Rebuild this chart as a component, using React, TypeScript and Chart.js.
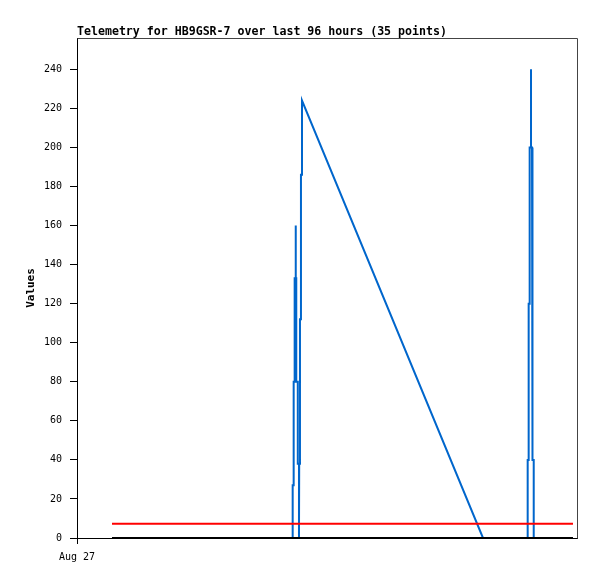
import React, { useEffect, useRef } from "react";
import { Chart, registerables } from "chart.js";

Chart.register(...registerables);

const TITLE = "Telemetry for HB9GSR-7 over last 96 hours (35 points)";
const Y_AXIS_TITLE = "Values";
const FONT = "'DejaVu Sans Mono', 'Liberation Mono', monospace";

// x axis in hours since Aug 27 00:00 (96-hour window)
const xMin = 0;
const xMax = 96;
const xTickValues = [0];
const xTickLabels = ["Aug 27"];

const yMin = 0;
const yMax = 256;
const yTickValues = [0, 20, 40, 60, 80, 100, 120, 140, 160, 180, 200, 220, 240];

// main telemetry series (hours, value)
const blueHours = [
  6.72, 20.0, 33.0,
  41.41, 41.41, 41.6, 41.6, 41.79, 41.79, 42.0, 41.98, 42.02, 42.1, 42.1, 42.39, 42.39,
  42.62, 42.62, 42.66, 42.81, 42.81, 43.0, 43.0, 43.2, 43.2,
  77.95, 82.18,
  86.53, 86.53, 86.72, 86.72, 86.91, 86.91, 87.17, 87.17, 87.17, 87.36, 87.36, 87.5, 87.5, 87.69, 87.69,
  90.82, 95.23,
];
const blueValues = [
  0, 0, 0,
  0, 27, 27, 80, 80, 133, 133, 160, 133, 133, 80, 80, 38,
  38, 0, 38, 38, 112, 112, 186, 186, 224,
  0, 0,
  0, 40, 40, 120, 120, 200, 200, 240, 200, 200, 120, 120, 40, 40, 0,
  0, 0,
];

// reference lines
const redHours = [6.72, 95.23];
const redValues = [7.3, 7.3];
const blackHours = [6.72, 95.23];
const blackValues = [0, 0];

const toPoints = (xs: number[], ys: number[]) => xs.map((x, i) => ({ x, y: ys[i] }));

const titlePlugin = {
  id: "customTitle",
  afterDraw(chart: any) {
    const ctx = chart.ctx;
    ctx.save();
    ctx.font = `bold 11.6px ${FONT}`;
    ctx.fillStyle = "#000";
    ctx.textAlign = "left";
    ctx.textBaseline = "alphabetic";
    ctx.fillText(TITLE, chart.chartArea.left, 35);
    ctx.restore();
  },
};

const framePlugin = {
  id: "frame",
  beforeDatasetsDraw(chart: any) {
    const { ctx, chartArea } = chart;
    ctx.save();
    ctx.strokeStyle = "#444";
    ctx.lineWidth = 1;
    ctx.beginPath();
    ctx.moveTo(Math.round(chartArea.left) + 0.5, Math.round(chartArea.top) + 0.5);
    ctx.lineTo(Math.round(chartArea.right) + 0.5, Math.round(chartArea.top) + 0.5);
    ctx.lineTo(Math.round(chartArea.right) + 0.5, Math.round(chartArea.bottom) + 0.5);
    ctx.stroke();
    ctx.restore();
  },
};

export default function App() {
  const ref = useRef<HTMLCanvasElement | null>(null);

  useEffect(() => {
    document.body.style.margin = "0";
    const canvas = ref.current;
    if (!canvas) return;
    const chart = new Chart(canvas, {
      type: "line",
      data: {
        datasets: [
          {
            label: "zero",
            data: toPoints(blackHours, blackValues),
            borderColor: "#000000",
            borderWidth: 2,
            pointRadius: 0,
            tension: 0,
            order: 0,
          },
          {
            label: "threshold",
            data: toPoints(redHours, redValues),
            borderColor: "#ff0000",
            borderWidth: 2,
            pointRadius: 0,
            tension: 0,
            order: 1,
          },
          {
            label: "value",
            data: toPoints(blueHours, blueValues),
            borderColor: "#0066cc",
            borderWidth: 2,
            borderJoinStyle: "miter",
            pointRadius: 0,
            tension: 0,
            order: 2,
          },
        ],
      },
      options: {
        animation: false,
        responsive: false,
        devicePixelRatio: 1,
        layout: { padding: { left: 0, right: 20, top: 38, bottom: 0 } },
        plugins: {
          legend: { display: false },
          tooltip: { enabled: false },
          title: { display: false },
        },
        scales: {
          x: {
            type: "linear",
            min: xMin,
            max: xMax,
            afterBuildTicks: (scale: any) => {
              scale.ticks = xTickValues.map((v) => ({ value: v }));
            },
            afterFit: (scale: any) => {
              scale.height = 41;
            },
            ticks: {
              autoSkip: false,
              maxRotation: 0,
              padding: 7,
              color: "#000",
              font: { family: FONT, size: 10 },
              callback: (value: any) => {
                const i = xTickValues.indexOf(Number(value));
                return i >= 0 ? xTickLabels[i] : "";
              },
            },
            grid: {
              display: true,
              drawOnChartArea: false,
              drawTicks: true,
              tickLength: 6,
              tickColor: "#000",
            },
            border: { display: true, color: "#000", width: 1 },
          },
          y: {
            type: "linear",
            min: yMin,
            max: yMax,
            afterBuildTicks: (scale: any) => {
              scale.ticks = yTickValues.map((v) => ({ value: v }));
            },
            afterFit: (scale: any) => {
              scale.width = 77;
            },
            ticks: {
              autoSkip: false,
              padding: 8,
              color: "#000",
              font: { family: FONT, size: 10 },
              callback: (value: any) => String(value),
            },
            grid: {
              display: true,
              drawOnChartArea: false,
              drawTicks: true,
              tickLength: 7,
              tickColor: "#000",
            },
            border: { display: true, color: "#000", width: 1 },
            title: {
              display: true,
              text: Y_AXIS_TITLE,
              color: "#000",
              font: { family: FONT, size: 11, weight: "bold" },
              padding: { top: 25, bottom: 0 },
            },
          },
        },
      },
      plugins: [titlePlugin, framePlugin],
    });
    return () => chart.destroy();
  }, []);

  return (
    <canvas
      ref={ref}
      width={597}
      height={579}
      style={{ display: "block", width: 597, height: 579, position: "absolute", left: 0, top: 0 }}
    />
  );
}
